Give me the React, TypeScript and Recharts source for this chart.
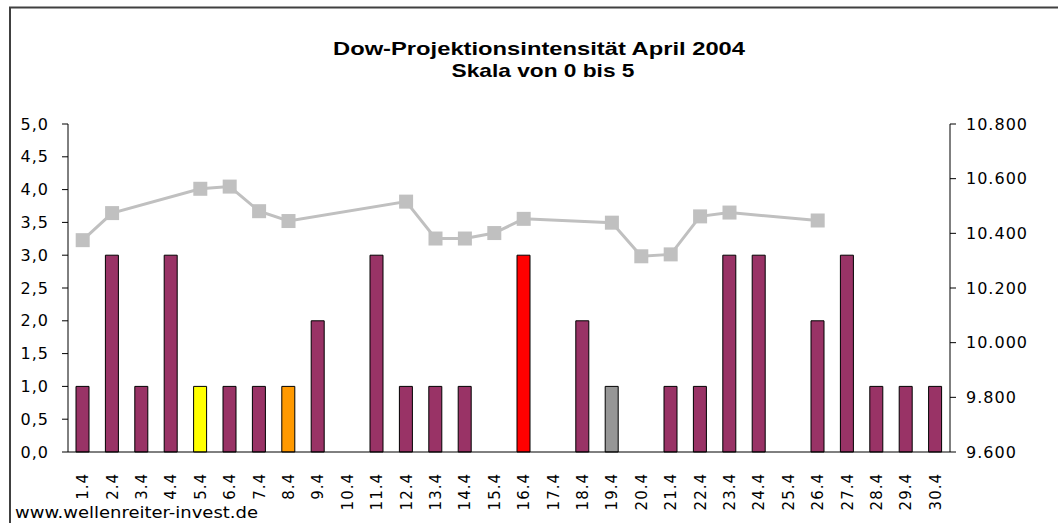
import { Bar, Cell, ComposedChart, Line, XAxis, YAxis } from 'recharts';

const days = [
  '1.4', '2.4', '3.4', '4.4', '5.4', '6.4', '7.4', '8.4', '9.4', '10.4',
  '11.4', '12.4', '13.4', '14.4', '15.4', '16.4', '17.4', '18.4', '19.4', '20.4',
  '21.4', '22.4', '23.4', '24.4', '25.4', '26.4', '27.4', '28.4', '29.4', '30.4',
];

const intensity = [1, 3, 1, 3, 1, 1, 1, 1, 2, 0, 3, 1, 1, 1, 0, 3, 0, 2, 1, 0, 1, 1, 3, 3, 0, 2, 3, 1, 1, 1];

// Dow-Schlusskurse (null = kein Handelstag / noch nicht bekannt)
const dowClose: (number | null)[] = [
  10375, 10474, null, null, 10563, 10571, 10481, 10445, null, null,
  null, 10516, 10381, 10381, 10401, 10453, null, null, 10439, 10316,
  10323, 10462, 10476, null, null, 10447, null, null, null, null,
];

const barColors: Record<string, string> = {
  '5.4': '#FFFF00',
  '8.4': '#FF9900',
  '16.4': '#FF0000',
  '19.4': '#969696',
};

const leftTicks = [0, 0.5, 1, 1.5, 2, 2.5, 3, 3.5, 4, 4.5, 5];
const rightTicks = [9600, 9800, 10000, 10200, 10400, 10600, 10800];

const data = days.map((d, i) => ({ day: d, intensity: intensity[i], dow: dowClose[i] }));

const FONT = '"DejaVu Sans", Verdana, sans-serif';

function DayTick({ x, y, payload }: any) {
  return (
    <text
      x={0}
      y={0}
      dy="0.36em"
      textAnchor="end"
      transform={`translate(${x},${y + 13}) rotate(-90)`}
      fontFamily={FONT}
      fontSize={15}
      letterSpacing={1}
      fill="#000"
    >
      {payload.value}
    </text>
  );
}

export default function App() {
  return (
    <div style={{ position: 'absolute', left: 0, top: 0, width: 1058, height: 523, background: '#fff', overflow: 'hidden' }}>
      <ComposedChart
        width={1058}
        height={523}
        data={data}
        margin={{ top: 124, right: 0, bottom: 0, left: 0 }}
      >
        <XAxis
          dataKey="day"
          interval={0}
          height={71}
          tickLine={false}
          axisLine={{ stroke: '#000' }}
          tick={<DayTick />}
        />
        <YAxis
          yAxisId="left"
          domain={[0, 5]}
          ticks={leftTicks}
          width={68}
          interval={0}
          tickSize={6}
          tickMargin={13}
          axisLine={{ stroke: '#000' }}
          tickLine={{ stroke: '#000' }}
          tickFormatter={(v: number) => v.toFixed(1).replace('.', ',')}
          tick={{ fill: '#000', fontSize: 16, fontFamily: FONT, letterSpacing: 1 }}
        />
        <YAxis
          yAxisId="right"
          orientation="right"
          domain={[9600, 10800]}
          ticks={rightTicks}
          width={108}
          interval={0}
          tickSize={6}
          tickMargin={10}
          axisLine={{ stroke: '#000' }}
          tickLine={{ stroke: '#000' }}
          tickFormatter={(v: number) => v.toLocaleString('de-DE')}
          tick={{ fill: '#000', fontSize: 16, fontFamily: FONT, letterSpacing: 1 }}
        />
        <Bar yAxisId="left" dataKey="intensity" barSize={13} fill="#993366" stroke="#000" strokeWidth={1} isAnimationActive={false}>
          {data.map((entry, index) => (
            <Cell key={`cell-${index}`} fill={barColors[entry.day] || '#993366'} />
          ))}
        </Bar>
        <Line
          yAxisId="right"
          dataKey="dow"
          stroke="#C0C0C0"
          strokeWidth={3}
          connectNulls
          isAnimationActive={false}
          dot={(p: any) =>
            p.value == null ? <g key={p.index} /> : (
              <rect key={p.index} x={p.cx - 7} y={p.cy - 7} width={14} height={14} fill="#C0C0C0" />
            )
          }
        />
      </ComposedChart>
      <svg width={1058} height={523} style={{ position: 'absolute', left: 0, top: 0, pointerEvents: 'none' }}>
        <rect x={10} y={7.5} width={1100} height={600} fill="none" stroke="#404040" strokeWidth={2} />
        <text x={539} y={55} textAnchor="middle" fontFamily='"Liberation Sans", Arial, sans-serif' fontWeight="bold" fontSize={19} textLength={412} lengthAdjust="spacingAndGlyphs">
          Dow-Projektionsintensität April 2004
        </text>
        <text x={543} y={77} textAnchor="middle" fontFamily='"Liberation Sans", Arial, sans-serif' fontWeight="bold" fontSize={19} textLength={183} lengthAdjust="spacingAndGlyphs">
          Skala von 0 bis 5
        </text>
        <text x={15} y={518} fontFamily={FONT} fontSize={15} textLength={243} lengthAdjust="spacingAndGlyphs">
          www.wellenreiter-invest.de
        </text>
      </svg>
    </div>
  );
}
